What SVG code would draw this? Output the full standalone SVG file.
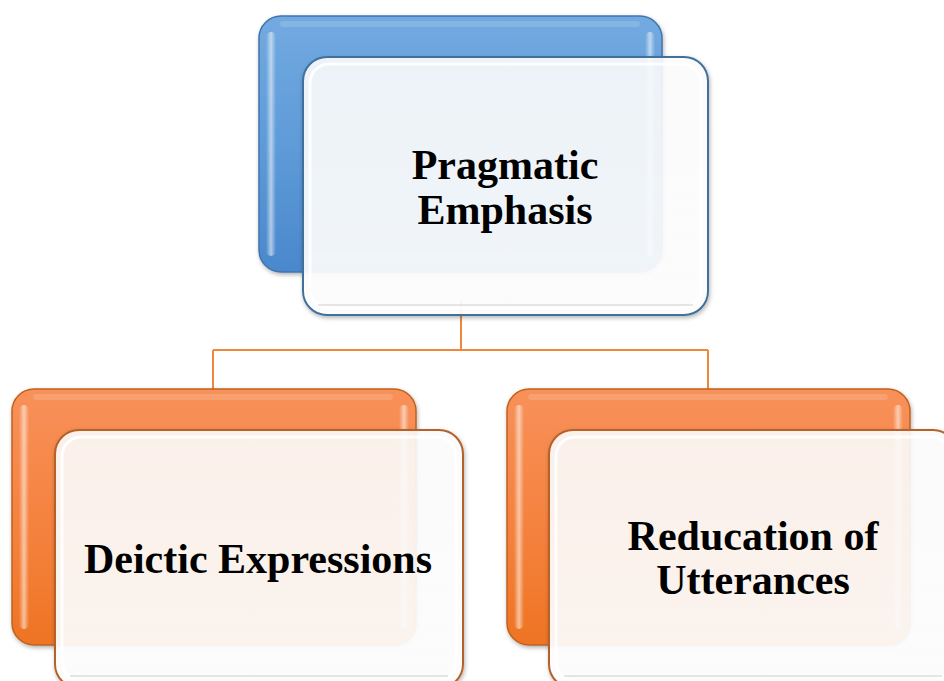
<svg xmlns="http://www.w3.org/2000/svg" width="944" height="681" viewBox="0 0 944 681">
<defs>
<linearGradient id="gBlue" x1="0" y1="0" x2="0" y2="1">
<stop offset="0" stop-color="#72AAE0"/>
<stop offset="0.5" stop-color="#5F9BD8"/>
<stop offset="1" stop-color="#4A88CC"/>
</linearGradient>
<linearGradient id="gOrange" x1="0" y1="0" x2="0" y2="1">
<stop offset="0" stop-color="#F8915A"/>
<stop offset="0.5" stop-color="#F58340"/>
<stop offset="1" stop-color="#EE7424"/>
</linearGradient>
<linearGradient id="gSide" x1="0" y1="0" x2="1" y2="0">
<stop offset="0" stop-color="#fff" stop-opacity="0"/>
<stop offset="0.5" stop-color="#fff" stop-opacity="0.55"/>
<stop offset="1" stop-color="#fff" stop-opacity="0"/>
</linearGradient>
<linearGradient id="gFront" x1="0" y1="0" x2="0" y2="1">
<stop offset="0" stop-color="#ffffff" stop-opacity="0.87"/>
<stop offset="1" stop-color="#ffffff" stop-opacity="0.92"/>
</linearGradient>
<filter id="sh" x="-10%" y="-10%" width="120%" height="120%">
<feDropShadow dx="1" dy="2" stdDeviation="2" flood-color="#000" flood-opacity="0.3"/>
</filter>
</defs>
<style>
.lbl{font-family:"Liberation Serif","Times New Roman",serif;font-weight:bold;font-size:42px;fill:#000;text-anchor:middle}
.front{fill:url(#gFront);stroke-width:2}
.inner{fill:none;stroke:#ffffff;stroke-width:3;stroke-opacity:0.9}
.bevel{fill:none;stroke:#c8c8c8;stroke-width:1.5;stroke-opacity:0.6}
.conn{fill:none;stroke:#F0873D;stroke-width:2}
.side{fill:url(#gSide)}
.top{fill:#fff;fill-opacity:0.15}
</style>

<g id="connectors">
<path class="conn" d="M461 300 V350 M213 350 H708 M213 350 V392 M708 350 V392"/>
</g>

<g id="node-top">
<rect x="259" y="16" width="403" height="256" rx="22" fill="url(#gBlue)" stroke="#3F75AD" stroke-width="1.5" filter="url(#sh)"/>
<rect x="266" y="32" width="10" height="224" rx="5" class="side"/>
<rect x="645" y="32" width="10" height="224" rx="5" class="side"/>
<rect x="280" y="21" width="360" height="6" rx="3" class="top"/>
<rect x="303" y="57" width="405" height="258" rx="24" class="front" stroke="#41719C" filter="url(#sh)"/>
<rect x="310" y="64" width="391" height="244" rx="19" class="inner"/>
<path class="bevel" d="M318 305 H693"/>
<text class="lbl" x="505" y="179">Pragmatic</text>
<text class="lbl" x="505" y="224">Emphasis</text>
</g>

<g id="node-left">
<rect x="12" y="389" width="404" height="256" rx="22" fill="url(#gOrange)" stroke="#C0621F" stroke-width="1.5" filter="url(#sh)"/>
<rect x="19" y="405" width="10" height="224" rx="5" class="side"/>
<rect x="399" y="405" width="10" height="224" rx="5" class="side"/>
<rect x="33" y="394" width="360" height="6" rx="3" class="top"/>
<rect x="55" y="430" width="408" height="258" rx="24" class="front" stroke="#B4622A" filter="url(#sh)"/>
<rect x="62" y="437" width="394" height="244" rx="19" class="inner"/>
<path class="bevel" d="M70 676 H448"/>
<text class="lbl" x="258" y="573">Deictic Expressions</text>
</g>

<g id="node-right">
<rect x="507" y="389" width="403" height="256" rx="22" fill="url(#gOrange)" stroke="#C0621F" stroke-width="1.5" filter="url(#sh)"/>
<rect x="514" y="405" width="10" height="224" rx="5" class="side"/>
<rect x="893" y="405" width="10" height="224" rx="5" class="side"/>
<rect x="528" y="394" width="360" height="6" rx="3" class="top"/>
<rect x="549" y="430" width="408" height="258" rx="24" class="front" stroke="#B4622A" filter="url(#sh)"/>
<rect x="556" y="437" width="394" height="244" rx="19" class="inner"/>
<path class="bevel" d="M564 676 H942"/>
<text class="lbl" x="753" y="550">Reducation of</text>
<text class="lbl" x="753" y="594">Utterances</text>
</g>
</svg>
